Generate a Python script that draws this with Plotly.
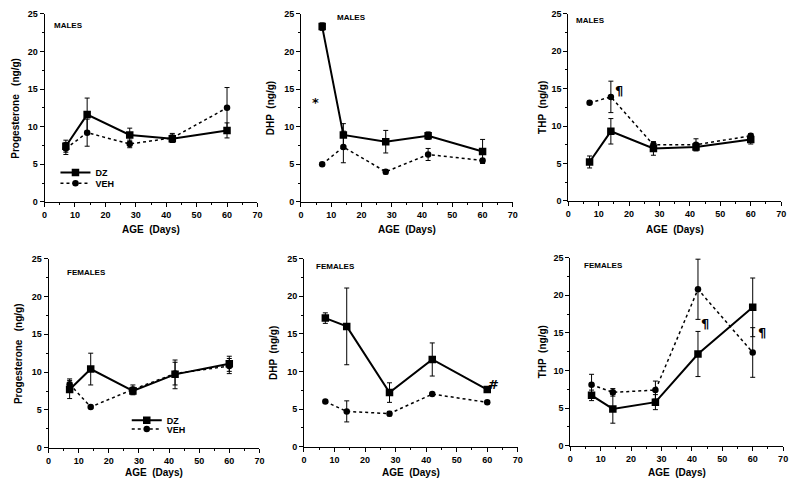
import plotly.graph_objects as go

ages = [7, 14, 28, 42, 60]

# Males
prog_m_dz = [7.4, 11.6, 8.9, 8.4, 9.5]
prog_m_dz_err = [0.8, 2.2, 0.9, 0.5, 1.0]
prog_m_veh = [7.1, 9.2, 7.7, 8.5, 12.5]
prog_m_veh_err = [0.8, 1.8, 0.5, 0.6, 2.7]

dhp_m_dz = [23.3, 8.9, 8.0, 8.8, 6.7]
dhp_m_dz_err = [0.5, 1.5, 1.5, 0.5, 1.6]
dhp_m_veh = [5.0, 7.3, 4.0, 6.3, 5.5]
dhp_m_veh_err = [0.2, 2.1, 0.3, 0.8, 0.2]

thp_m_dz = [5.2, 9.3, 7.0, 7.2, 8.2]
thp_m_dz_err = [0.8, 1.7, 0.9, 0.5, 0.6]
thp_m_veh = [13.1, 13.9, 7.5, 7.5, 8.7]
thp_m_veh_err = [0.2, 2.1, 0.4, 0.8, 0.3]

# Females
prog_f_dz = [7.7, 10.4, 7.5, 9.7, 11.1]
prog_f_dz_err = [1.2, 2.1, 0.5, 1.9, 1.0]
prog_f_veh = [8.4, 5.4, 7.7, 9.8, 10.8]
prog_f_veh_err = [0.7, 0.2, 0.6, 1.5, 1.0]

dhp_f_dz = [17.1, 16.0, 7.2, 11.6, 7.6]
dhp_f_dz_err = [0.7, 5.1, 1.3, 2.2, 0.2]
dhp_f_veh = [6.0, 4.7, 4.4, 7.0, 5.9]
dhp_f_veh_err = [0.15, 1.4, 0.3, 0.2, 0.2]

thp_f_dz = [6.7, 4.9, 5.8, 12.2, 18.4]
thp_f_dz_err = [0.7, 1.9, 1.0, 3.0, 3.9]
thp_f_veh = [8.1, 7.1, 7.4, 20.8, 12.4]
thp_f_veh_err = [1.4, 0.5, 1.2, 4.0, 3.3]

x_ticks = [0, 10, 20, 30, 40, 50, 60, 70]
x_tick_labels = ["0", "10", "20", "30", "40", "50", "60", "70"]
y_ticks = [0, 5, 10, 15, 20, 25]
y_tick_labels = ["0", "5", "10", "15", "20", "25"]

panel_titles = ["MALES", "MALES", "MALES", "FEMALES", "FEMALES", "FEMALES"]
y_titles = ["Progesterone   (ng/g)", "DHP  (ng/g)", "THP  (ng/g)",
            "Progesterone   (ng/g)", "DHP  (ng/g)", "THP  (ng/g)"]
x_title = "AGE  (Days)"

panels = [
    (prog_m_dz, prog_m_dz_err, prog_m_veh, prog_m_veh_err),
    (dhp_m_dz, dhp_m_dz_err, dhp_m_veh, dhp_m_veh_err),
    (thp_m_dz, thp_m_dz_err, thp_m_veh, thp_m_veh_err),
    (prog_f_dz, prog_f_dz_err, prog_f_veh, prog_f_veh_err),
    (dhp_f_dz, dhp_f_dz_err, dhp_f_veh, dhp_f_veh_err),
    (thp_f_dz, thp_f_dz_err, thp_f_veh, thp_f_veh_err),
]

W, H = 800, 487
# pixel boxes (left, right, top, bottom) for each panel plot area
boxes = [
    (42, 257, 9, 201), (301, 515, 9, 201), (571, 786, 9, 200),
    (46, 259, 259, 452), (304, 520, 259, 451), (573, 788, 258, 450),
]
ytitle_x = [13, 271, 545, 15, 273, 545]
xtitle_y = [229, 229, 229, 477, 477, 477]
# panel label positions (data coords, left anchored)
title_pos = [(2.6, 23.4), (11.4, 24.5), (1.8, 24.1), (5.3, 23.2), (3.3, 24.0), (4.0, 23.9)]

# significance markers: (panel index, x, y, text)
marks_txt = [(1, 4.7, 13.2, "*"), (2, 16.6, 14.7, "¶"), (4, 62.1, 8.3, "#"),
             (5, 44.3, 16.2, "¶"), (5, 63.2, 15.1, "¶")]

# legend placement: (legend id, x px, y px center)
legend_slots = {
    (0, "DZ"): ("legend", 53, 171),
    (0, "VEH"): ("legend3", 53, 182),
    (3, "DZ"): ("legend2", 125, 424),
    (3, "VEH"): ("legend4", 125, 433),
}

FONT = "Liberation Sans, Arial, sans-serif"
fig = go.Figure()
annotations = []

for i, (dz, dze, veh, vehe) in enumerate(panels):
    n = i + 1
    xa = "x" if n == 1 else f"x{n}"
    ya = "y" if n == 1 else f"y{n}"
    for name, vals, errs, line, sym in [
        ("DZ", dz, dze, dict(color="black", width=2), "square"),
        ("VEH", veh, vehe, dict(color="black", width=1.5, dash="dot"), "circle"),
    ]:
        slot = legend_slots.get((i, name))
        fig.add_trace(go.Scatter(
            x=ages, y=vals, mode="lines+markers", name=name,
            xaxis=xa, yaxis=ya, line=line,
            marker=dict(symbol=sym, size=7.5 if sym == "square" else 6.5, color="black"),
            error_y=dict(type="data", array=errs, visible=True, color="black", thickness=1, width=2.5),
            showlegend=slot is not None,
            legend=slot[0] if slot else "legend",
        ))
    l, r, t, b = boxes[i]
    xkey = "xaxis" if n == 1 else f"xaxis{n}"
    ykey = "yaxis" if n == 1 else f"yaxis{n}"
    fig.layout[xkey] = dict(
        domain=[l / W, r / W], anchor=ya, range=[0, 70],
        tickvals=x_ticks, ticktext=x_tick_labels,
        showline=True, linecolor="black", linewidth=1, showgrid=False, zeroline=False,
        ticks="outside", ticklen=4, tickwidth=1, tickcolor="black",
        minor=dict(tickvals=[5, 15, 25, 35, 45, 55, 65], ticks="outside", ticklen=2, tickcolor="black"),
        tickfont=dict(family=FONT, size=9, color="black", weight="bold"),
        fixedrange=True,
    )
    fig.layout[ykey] = dict(
        domain=[1 - b / H, 1 - t / H], anchor=xa, range=[0, 25],
        tickvals=y_ticks, ticktext=y_tick_labels,
        showline=True, linecolor="black", linewidth=1, showgrid=False, zeroline=False,
        ticks="outside", ticklen=4, tickwidth=1, tickcolor="black",
        minor=dict(tickvals=[2.5, 7.5, 12.5, 17.5, 22.5], ticks="outside", ticklen=2, tickcolor="black"),
        tickfont=dict(family=FONT, size=9, color="black", weight="bold"),
        fixedrange=True,
    )
    tx, ty = title_pos[i]
    annotations.append(dict(x=tx, y=ty, xref=xa, yref=ya, text=f"<b>{panel_titles[i]}</b>",
                            showarrow=False, xanchor="left", yanchor="middle",
                            font=dict(family=FONT, size=8, color="black")))
    annotations.append(dict(x=ytitle_x[i] / W, y=1 - (t + b) / 2 / H, xref="paper", yref="paper",
                            text=f"<b>{y_titles[i]}</b>", textangle=-90, showarrow=False,
                            xanchor="center", yanchor="middle",
                            font=dict(family=FONT, size=10, color="black")))
    annotations.append(dict(x=(l + r) / 2 / W, y=1 - xtitle_y[i] / H, xref="paper", yref="paper",
                            text=f"<b>{x_title}</b>", showarrow=False,
                            xanchor="center", yanchor="middle",
                            font=dict(family=FONT, size=10, color="black")))

for (pi, mx, my, mt) in marks_txt:
    n = pi + 1
    xa = "x" if n == 1 else f"x{n}"
    ya = "y" if n == 1 else f"y{n}"
    annotations.append(dict(x=mx, y=my, xref=xa, yref=ya, text=f"<b>{mt}</b>", showarrow=False,
                            xanchor="center", yanchor="middle",
                            font=dict(family="DejaVu Sans, sans-serif", size=13, color="#000000")))

legend_style = dict(font=dict(family=FONT, size=9, color="black", weight="bold"),
                    bgcolor="rgba(0,0,0,0)", borderwidth=0, itemwidth=30,
                    xanchor="left", yanchor="middle", tracegroupgap=0)

legend_layout = {}
for (pi, name), (lid, lx, ly) in legend_slots.items():
    legend_layout[lid] = dict(x=lx / W, y=1 - ly / H, **legend_style)

fig.update_layout(
    width=W, height=H,
    margin=dict(l=0, r=0, t=0, b=0),
    paper_bgcolor="white", plot_bgcolor="white",
    showlegend=True,
    annotations=annotations,
    **legend_layout,
)

fig.write_html("out.html", config={"displayModeBar": False},
               post_script="document.body.style.margin='0';document.body.style.padding='0';")
